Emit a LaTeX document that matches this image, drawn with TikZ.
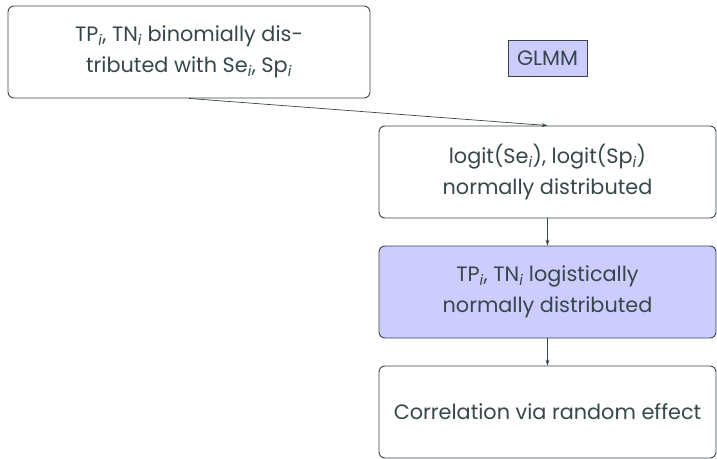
\documentclass[tikz,border=0pt]{standalone}
\usepackage{fontspec}
\setmainfont{Poppins}
\usetikzlibrary{arrows.meta}
\definecolor{ink}{HTML}{36474A}
\definecolor{lav}{HTML}{CCCCFF}
\newcommand{\ix}{\textsubscript{\itshape i}}
\tikzset{
  box/.style={draw=ink, line width=0.9pt, rounded corners=6pt, align=center,
    text=ink, font=\fontsize{20.8}{31}\selectfont, inner sep=0pt},
  tag/.style={draw=ink, line width=0.9pt, fill=lav, text=ink,
    font=\fontsize{20.8}{24}\selectfont, inner sep=0pt},
  link/.style={draw=ink, line width=0.7pt, -{Stealth[length=6pt,width=4pt]}}
}
\begin{document}
\begin{tikzpicture}[x=1pt, y=-1pt]
  \useasboundingbox (0,0) rectangle (717,458);
  \clip (0,0) rectangle (717,458);
  \node[box, minimum width=362pt, minimum height=92pt] (bin) at (189,52)
    {TP\ix, TN\ix{} binomially dis-\\tributed with Se\ix, Sp\ix};
  \node[tag, minimum width=79pt, minimum height=36pt] (glmm) at (547.5,58) {GLMM};
  \node[box, minimum width=337pt, minimum height=92pt] (logit) at (547.5,172)
    {logit(Se\ix), logit(Sp\ix)\\normally distributed};
  \node[box, fill=lav, minimum width=337pt, minimum height=92pt] (logn) at (547.5,292)
    {TP\ix, TN\ix{} logistically\\normally distributed};
  \node[box, minimum width=337pt, minimum height=92pt] (corr) at (547.5,412)
    {Correlation via random effect};
  \draw[link] (bin.south) -- (logit.north);
  \draw[link] (logit) -- (logn);
  \draw[link] (logn) -- (corr);
\end{tikzpicture}
\end{document}
